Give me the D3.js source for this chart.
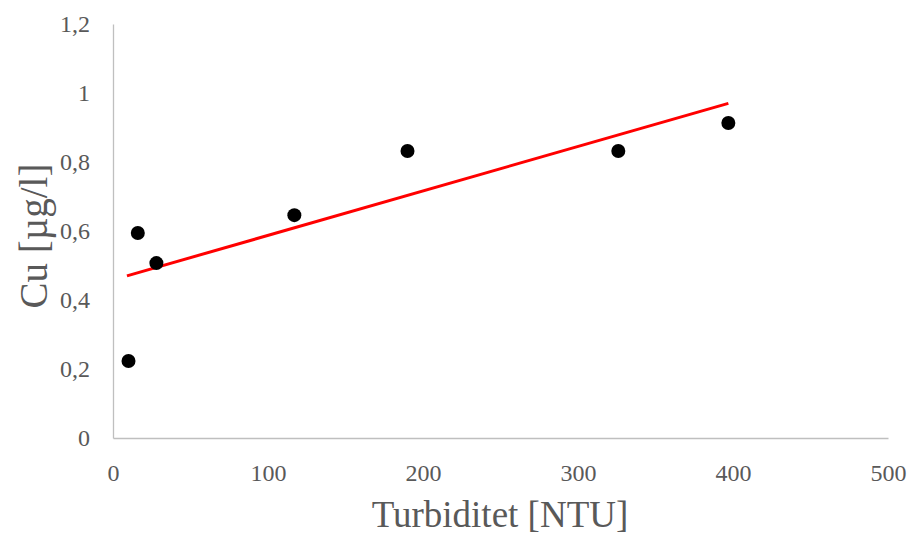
<!DOCTYPE html>
<html><head><meta charset="utf-8">
<script src="https://cdn.jsdelivr.net/npm/d3@7"></script>
<style>body{margin:0;background:#fff}svg text{font-family:"Liberation Serif","Times New Roman",serif}</style>
</head><body>
<svg id="c" width="907" height="535"></svg>
<script>
const turbidity = [10, 16, 28, 117, 190, 326, 397];
const copper = [0.223, 0.594, 0.507, 0.646, 0.832, 0.832, 0.913];
const trendX = [9, 397];
const trendY = [0.47, 0.97];
const xTicks = [0, 100, 200, 300, 400, 500];
const yTicks = [0, 0.2, 0.4, 0.6, 0.8, 1, 1.2];

const svg = d3.select("#c");
const x = d3.scaleLinear().domain([0, 500]).range([113, 888]);
const y = d3.scaleLinear().domain([0, 1.2]).range([438, 24]);
const fmt = v => String(v).replace(".", ",");

const xAxis = svg.append("g").attr("transform", "translate(0,438)")
  .call(d3.axisBottom(x).tickValues(xTicks).tickSize(0).tickPadding(26).tickFormat(fmt));
const yAxis = svg.append("g").attr("transform", "translate(113,0)")
  .call(d3.axisLeft(y).tickValues(yTicks).tickSize(0).tickPadding(23).tickFormat(fmt));
[xAxis, yAxis].forEach(g => {
  g.select(".domain").attr("stroke", "#bfbfbf").attr("stroke-width", 1.3);
  g.selectAll("text").attr("fill", "#595959").attr("font-size", 24);
});

svg.append("text").attr("x", 500).attr("y", 527).attr("text-anchor", "middle")
  .attr("fill", "#595959").attr("font-size", 37).text("Turbiditet [NTU]");
svg.append("text").attr("transform", "translate(47,236) rotate(-90)").attr("text-anchor", "middle")
  .attr("fill", "#595959").attr("font-size", 39).text("Cu [µg/l]");

svg.append("line").attr("x1", x(trendX[0])).attr("y1", y(trendY[0]))
  .attr("x2", x(trendX[1])).attr("y2", y(trendY[1]))
  .attr("stroke", "#ff0000").attr("stroke-width", 3);

svg.selectAll("circle.p").data(turbidity).enter().append("circle")
  .attr("cx", d => x(d)).attr("cy", (d, i) => y(copper[i])).attr("r", 7).attr("fill", "#000");
</script>
</body></html>
